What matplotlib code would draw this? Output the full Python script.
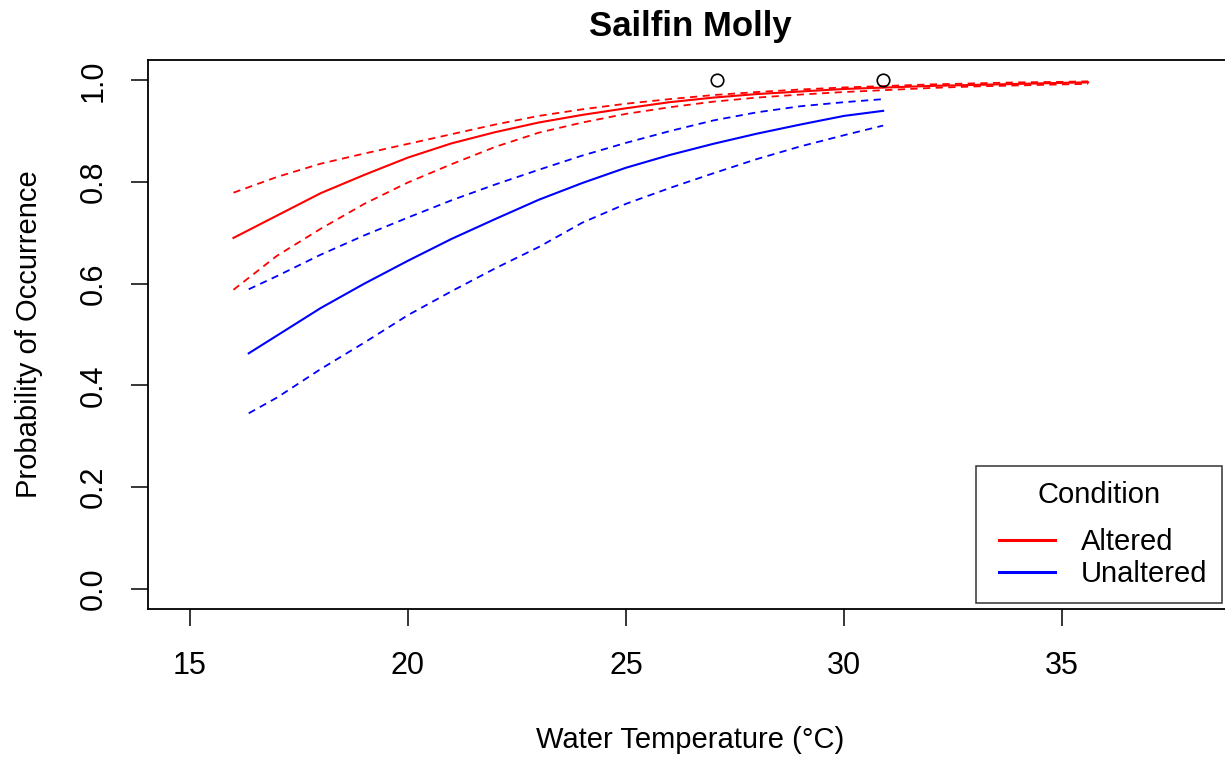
import numpy as np
import matplotlib
matplotlib.use('Agg')
import matplotlib.pyplot as plt
from matplotlib.lines import Line2D
from matplotlib.legend_handler import HandlerLine2D

plt.rcParams['font.family'] = ['Liberation Sans', 'DejaVu Sans']

# predicted probability of occurrence vs water temperature
altered_temp = [16.0, 17, 18, 19, 20, 21, 22, 23, 24, 25, 26, 27, 28, 29, 30, 31, 32, 33, 34, 35, 35.6]
altered_fit = [0.690, 0.734, 0.778, 0.814, 0.848, 0.876, 0.898, 0.917, 0.932, 0.945, 0.957, 0.966,
               0.973, 0.978, 0.983, 0.986, 0.989, 0.991, 0.993, 0.995, 0.996]
altered_upper = [0.779, 0.810, 0.836, 0.856, 0.875, 0.894, 0.913, 0.930, 0.943, 0.954, 0.963, 0.971,
                 0.977, 0.982, 0.986, 0.989, 0.992, 0.994, 0.996, 0.997, 0.998]
altered_lower = [0.588, 0.655, 0.708, 0.757, 0.799, 0.835, 0.869, 0.897, 0.917, 0.934, 0.947, 0.958,
                 0.966, 0.972, 0.977, 0.981, 0.985, 0.988, 0.990, 0.992, 0.993]

unaltered_temp = [16.35, 17, 18, 19, 20, 21, 22, 23, 24, 25, 26, 27, 28, 29, 30, 30.9]
unaltered_fit = [0.463, 0.498, 0.552, 0.600, 0.645, 0.688, 0.727, 0.765, 0.798, 0.828, 0.853, 0.875,
                 0.895, 0.913, 0.930, 0.940]
unaltered_upper = [0.589, 0.615, 0.657, 0.695, 0.730, 0.764, 0.795, 0.824, 0.852, 0.877, 0.900, 0.921,
                   0.937, 0.949, 0.957, 0.963]
unaltered_lower = [0.345, 0.376, 0.432, 0.484, 0.538, 0.585, 0.630, 0.672, 0.720, 0.757, 0.788, 0.817,
                   0.845, 0.870, 0.892, 0.911]

# observed presences
obs_temp = [27.1, 30.9]
obs_prob = [1.0, 1.0]

W, H = 1225, 757
fig = plt.figure(figsize=(W / 100, H / 100), dpi=100)
ax = fig.add_axes([148 / W, (H - 609) / H, (1232 - 148) / W, 549 / H])

dash = (4, 3)
ax.plot(altered_temp, altered_fit, color='red', lw=1.5)
ax.plot(altered_temp, altered_upper, color='red', lw=1.3, dashes=dash)
ax.plot(altered_temp, altered_lower, color='red', lw=1.3, dashes=dash)
ax.plot(unaltered_temp, unaltered_fit, color='blue', lw=1.5)
ax.plot(unaltered_temp, unaltered_upper, color='blue', lw=1.3, dashes=dash)
ax.plot(unaltered_temp, unaltered_lower, color='blue', lw=1.3, dashes=dash)
ax.plot(obs_temp, obs_prob, 'o', mfc='none', mec='black', ms=9, mew=1.2, ls='none')

ax.set_xlim(14.04, 38.9)
ax.set_ylim(-0.04, 1.04)
ax.set_xticks([15, 20, 25, 30, 35])
ax.set_yticks([0.0, 0.2, 0.4, 0.6, 0.8, 1.0])
ax.set_yticklabels(['0.0', '0.2', '0.4', '0.6', '0.8', '1.0'], rotation=90, va='center')
ax.tick_params(length=12, width=1.1, labelsize=22)
ax.tick_params(axis='x', pad=18)
ax.tick_params(axis='y', pad=16)
for s in ax.spines.values():
    s.set_linewidth(1.3)

ax.set_title('Sailfin Molly', fontsize=25, fontweight='bold', pad=17)
ax.set_xlabel('Water Temperature (°C)', fontsize=21, labelpad=33)
ax.set_ylabel('Probability of Occurrence', fontsize=21, labelpad=26)

handles = [Line2D([], [], color='red', lw=2.2), Line2D([], [], color='blue', lw=2.2)]
leg = ax.legend(handles, ['Altered', 'Unaltered'], title='Condition', fontsize=21, title_fontsize=21,
                loc='lower right', bbox_to_anchor=(1222 / W, (H - 603) / H), bbox_transform=fig.transFigure,
                borderaxespad=0, frameon=True, fancybox=False, handlelength=2.21, handletextpad=0.9,
                labelspacing=0.15, borderpad=0.5,
                handler_map={Line2D: HandlerLine2D(xpad=0.29)})
leg._legend_box.sep = 14  # extra room under the legend title
leg.get_frame().set_edgecolor('black')
leg.get_frame().set_linewidth(1.1)

fig.savefig('out.png', dpi=100)
